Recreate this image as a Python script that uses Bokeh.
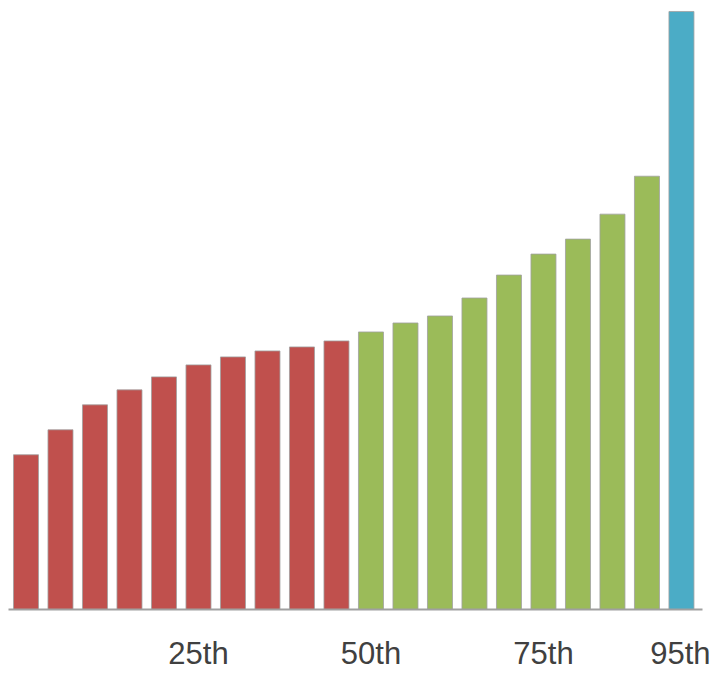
from bokeh.plotting import figure
from bokeh.embed import file_html
from bokeh.resources import INLINE
from bokeh.models import ColumnDataSource, FixedTicker

# Data
percentiles = [0, 5, 10, 15, 20, 25, 30, 35, 40, 45, 50, 55, 60, 65, 70, 75, 80, 85, 90, 95]
values = [155, 180, 205, 220, 233, 245, 253, 259, 263, 269,
          278, 287, 294, 312, 335, 356, 371, 396, 434, 599]
groups = ["low"] * 10 + ["mid"] * 9 + ["top"]
group_colors = {"low": "#C0504D", "mid": "#9BBB59", "top": "#4BACC6"}
tick_percentiles = [25, 50, 75, 95]
tick_labels = ["25th", "50th", "75th", "95th"]

idx = list(range(len(percentiles)))
colors = [group_colors[g] for g in groups]
src = ColumnDataSource(dict(x=idx, top=values, color=colors))

p = figure(width=710, height=673, output_backend="svg", toolbar_location=None,
           x_range=(-0.507, 19.61), y_range=(0, 610),
           min_border_left=8, min_border_right=8, min_border_top=0, min_border_bottom=63)
p.vbar(x="x", top="top", width=0.725, bottom=0, source=src,
       fill_color="color", line_color="#a0a0a0", line_width=1, line_alpha=0.8)

p.yaxis.visible = False
p.xgrid.visible = False
p.ygrid.visible = False
p.outline_line_color = None

ticks = [percentiles.index(t) for t in tick_percentiles]
p.xaxis.ticker = FixedTicker(ticks=ticks)
p.xaxis.major_label_overrides = {t: l for t, l in zip(ticks, tick_labels)}
p.xaxis.major_tick_line_color = None
p.xaxis.minor_tick_line_color = None
p.xaxis.major_tick_out = 0
p.xaxis.major_tick_in = 0
p.xaxis.axis_line_color = "#a0a0a0"
p.xaxis.axis_line_width = 2
p.xaxis.major_label_text_font = "'Liberation Sans Narrow', 'Liberation Sans', sans-serif"
p.xaxis.major_label_text_font_size = "31px"
p.xaxis.major_label_text_color = "#404040"
p.xaxis.major_label_standoff = 26

open("out.html", "w").write(file_html(p, INLINE))
